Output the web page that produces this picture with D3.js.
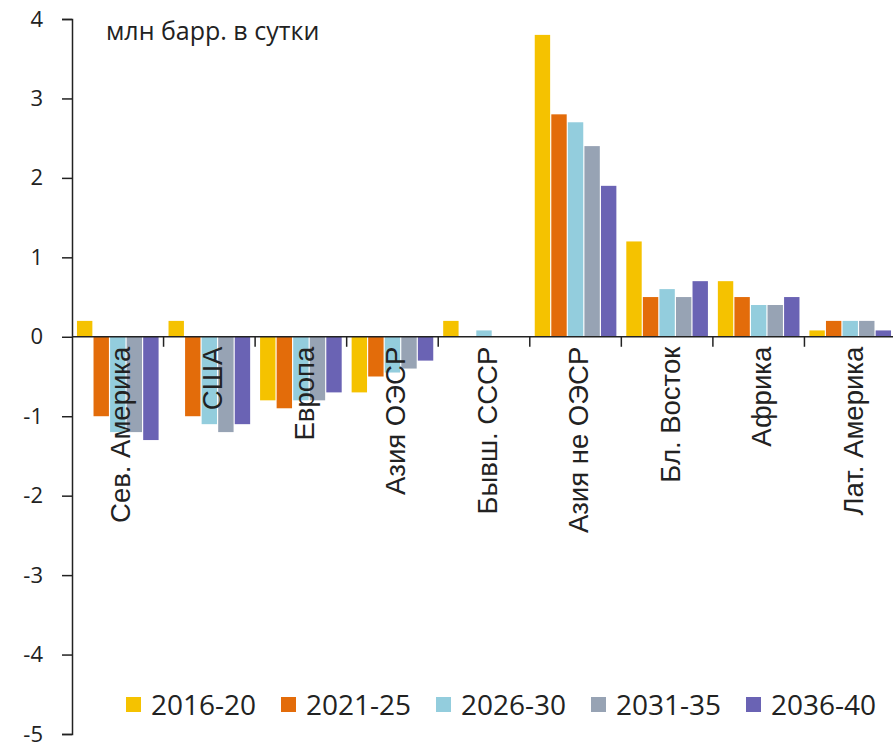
<!DOCTYPE html>
<html>
<head>
<meta charset="utf-8">
<script src="https://cdn.jsdelivr.net/npm/d3@7"></script>
<style>
  body { margin: 0; background: #fff; }
  svg { display: block; }
</style>
</head>
<body>
<svg class="chart"></svg>
<script>
// regions and periods
var categories = ['Сев. Америка', 'США', 'Европа', 'Азия ОЭСР', 'Бывш. СССР',
                  'Азия не ОЭСР', 'Бл. Восток', 'Африка', 'Лат. Америка'];
var periods = ['2016-20', '2021-25', '2026-30', '2031-35', '2036-40'];

// change in demand, mln bbl/day, one array per period
var v2016 = [0.2, 0.2, -0.8, -0.7, 0.2, 3.8, 1.2, 0.7, 0.08];
var v2021 = [-1.0, -1.0, -0.9, -0.5, 0, 2.8, 0.5, 0.5, 0.2];
var v2026 = [-1.2, -1.1, -0.8, -0.45, 0.08, 2.7, 0.6, 0.4, 0.2];
var v2031 = [-1.2, -1.2, -0.8, -0.4, 0, 2.4, 0.5, 0.4, 0.2];
var v2036 = [-1.3, -1.1, -0.7, -0.3, 0, 1.9, 0.7, 0.5, 0.08];
var yTicks = [4, 3, 2, 1, 0, -1, -2, -3, -4, -5];
var colors = ['#F5C200', '#E36C0A', '#93CDDD', '#97A3B4', '#6A63B4'];

var series = [v2016, v2021, v2026, v2031, v2036];
var width = 893, height = 742;

var svg = d3.select('.chart')
    .attr('width', width)
    .attr('height', height);

var x0 = d3.scaleBand()
    .domain(categories)
    .range([72, 896]);

var x1 = d3.scaleBand()
    .domain(periods)
    .range([0, x0.bandwidth()])
    .paddingInner(0.07)
    .paddingOuter(0.3);

var y = d3.scaleLinear()
    .domain([-5, 4])
    .range([734, 19]);

var color = d3.scaleOrdinal().domain(periods).range(colors);

// bars
var groups = svg.append('g')
    .selectAll('g')
    .data(categories)
    .enter().append('g')
    .attr('transform', function(d) { return 'translate(' + x0(d) + ',0)'; });

groups.selectAll('rect')
    .data(function(d, i) {
        return periods.map(function(p, j) { return { period: p, value: series[j][i] }; });
    })
    .enter().append('rect')
    .attr('x', function(d) { return x1(d.period); })
    .attr('width', x1.bandwidth())
    .attr('y', function(d) { return y(Math.max(0, d.value)); })
    .attr('height', function(d) { return Math.abs(y(d.value) - y(0)); })
    .attr('fill', function(d) { return color(d.period); });

// y axis
var yAxis = svg.append('g')
    .attr('transform', 'translate(72,0)')
    .call(d3.axisLeft(y).tickValues(yTicks).tickSize(10).tickPadding(19));
yAxis.select('.domain').attr('stroke', '#222').attr('stroke-width', 1.5);
yAxis.selectAll('.tick line').attr('stroke', '#222').attr('stroke-width', 1.5);
yAxis.selectAll('.tick text')
    .attr('font-family', 'Open Sans, sans-serif')
    .attr('font-size', 22)
    .attr('fill', '#222')
    .text(function(d) { return String(d); });

// x axis on zero line, ticks between categories
var bounds = categories.map(function(c) { return x0(c) + x0.bandwidth(); }).slice(0, -1);
var xAxis = svg.append('g');
xAxis.append('line')
    .attr('x1', 72).attr('x2', width)
    .attr('y1', y(0)).attr('y2', y(0))
    .attr('stroke', '#222').attr('stroke-width', 1.5);
xAxis.selectAll('line.sep')
    .data(bounds)
    .enter().append('line')
    .attr('class', 'sep')
    .attr('x1', function(d) { return d; }).attr('x2', function(d) { return d; })
    .attr('y1', y(0)).attr('y2', y(0) + 10)
    .attr('stroke', '#222').attr('stroke-width', 1.5);

// category labels
svg.append('g')
    .selectAll('text')
    .data(categories)
    .enter().append('text')
    .attr('transform', function(d) {
        return 'translate(' + (x0(d) + x0.bandwidth() / 2 + 3) + ',' + (y(0) + 10) + ') rotate(-90)';
    })
    .attr('dy', '0.35em')
    .attr('text-anchor', 'end')
    .attr('font-family', 'Liberation Sans, Arial, sans-serif')
    .attr('font-size', 27.5)
    .attr('fill', '#222')
    .text(function(d) { return d; });

// units
svg.append('text')
    .attr('x', 106).attr('y', 40)
    .attr('font-family', 'Open Sans, sans-serif')
    .attr('font-size', 25)
    .attr('fill', '#222')
    .text('млн барр. в сутки');

// legend
var legend = svg.append('g')
    .selectAll('g')
    .data(periods)
    .enter().append('g')
    .attr('transform', function(d, i) { return 'translate(' + (126 + i * 155) + ',697)'; });
legend.append('rect')
    .attr('width', 15).attr('height', 15)
    .attr('fill', function(d) { return color(d); });
legend.append('text')
    .attr('x', 25).attr('y', 7.5)
    .attr('dy', '0.36em')
    .attr('font-family', 'Open Sans, sans-serif')
    .attr('font-size', 28)
    .attr('fill', '#222')
    .text(function(d) { return d; });
</script>
</body>
</html>
